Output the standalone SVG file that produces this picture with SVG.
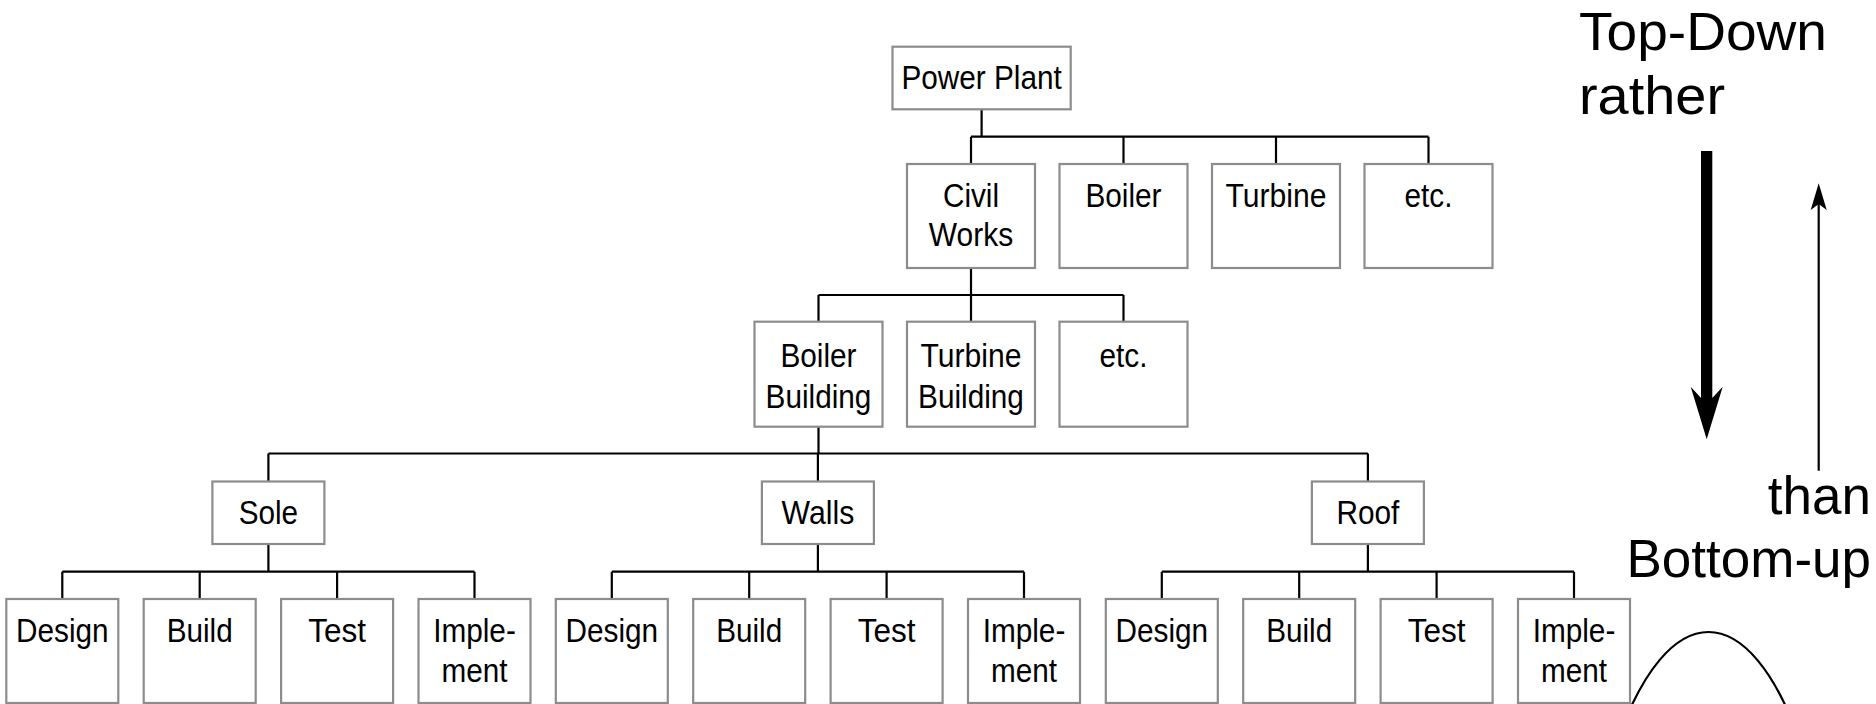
<svg xmlns="http://www.w3.org/2000/svg" width="1876" height="704" viewBox="0 0 1876 704">
<style>
.box{fill:#fff;stroke:#8c8c8c;stroke-width:2.2}
.lbl{font-family:"Liberation Sans",Arial,sans-serif;font-size:33px;text-anchor:middle;fill:#000}
.conn{fill:none;stroke:#000;stroke-width:2.2}
.big{font-family:"Liberation Sans",Arial,sans-serif;font-size:53px;fill:#000}
</style>
<rect width="1876" height="704" fill="#fff"/>
<g id="connectors" class="conn">
<path d="M981.6,109.3V136.7M971,136.7H1428.5M971,136.7V164M1123.5,136.7V164M1276,136.7V164M1428.5,136.7V164"/>
<path d="M971,268V295M818.5,295H1123.5M818.5,295V321.7M971,295V321.7M1123.5,295V321.7"/>
<path d="M818.5,426.7V453.5M268.4,453.5H1367.9M268.4,453.5V481.5M817.9,453.5V481.5M1367.9,453.5V481.5"/>
<path d="M268.4,544V571.7M62.3,571.7H474.5M62.3,571.7V599M199.7,571.7V599M337.1,571.7V599M474.5,571.7V599"/>
<path d="M817.9,544V571.7M611.8,571.7H1024M611.8,571.7V599M749.2,571.7V599M886.6,571.7V599M1024,571.7V599"/>
<path d="M1367.9,544V571.7M1161.8,571.7H1574M1161.8,571.7V599M1299.2,571.7V599M1436.6,571.7V599M1574,571.7V599"/>
</g>
<g id="power-plant"><rect class="box" x="892.5" y="46.7" width="178.2" height="62.6"/><text class="lbl" x="981.6" y="89" textLength="160.4" lengthAdjust="spacingAndGlyphs">Power Plant</text></g>
<g id="civil-works"><rect class="box" x="907" y="164" width="128" height="104"/><text class="lbl" x="971" y="207" textLength="56.2" lengthAdjust="spacingAndGlyphs">Civil</text><text class="lbl" x="971" y="245.5" textLength="84.3" lengthAdjust="spacingAndGlyphs">Works</text></g>
<g id="boiler"><rect class="box" x="1059.5" y="164" width="128" height="104"/><text class="lbl" x="1123.5" y="207" textLength="76.1" lengthAdjust="spacingAndGlyphs">Boiler</text></g>
<g id="turbine"><rect class="box" x="1212" y="164" width="128" height="104"/><text class="lbl" x="1276" y="207" textLength="100.9" lengthAdjust="spacingAndGlyphs">Turbine</text></g>
<g id="etc-1"><rect class="box" x="1364.5" y="164" width="128" height="104"/><text class="lbl" x="1428.5" y="207" textLength="48" lengthAdjust="spacingAndGlyphs">etc.</text></g>
<g id="boiler-building"><rect class="box" x="754.5" y="321.7" width="128" height="105"/><text class="lbl" x="818.5" y="367.3" textLength="76.1" lengthAdjust="spacingAndGlyphs">Boiler</text><text class="lbl" x="818.5" y="407.5" textLength="105.8" lengthAdjust="spacingAndGlyphs">Building</text></g>
<g id="turbine-building"><rect class="box" x="907" y="321.7" width="128" height="105"/><text class="lbl" x="971" y="367.3" textLength="100.9" lengthAdjust="spacingAndGlyphs">Turbine</text><text class="lbl" x="971" y="407.5" textLength="105.8" lengthAdjust="spacingAndGlyphs">Building</text></g>
<g id="etc-2"><rect class="box" x="1059.5" y="321.7" width="128" height="105"/><text class="lbl" x="1123.5" y="367.3" textLength="48" lengthAdjust="spacingAndGlyphs">etc.</text></g>
<g id="sole"><rect class="box" x="212.4" y="481.5" width="112" height="62.5"/><text class="lbl" x="268.4" y="523.5" textLength="59.5" lengthAdjust="spacingAndGlyphs">Sole</text></g>
<g id="walls"><rect class="box" x="761.9" y="481.5" width="112" height="62.5"/><text class="lbl" x="817.9" y="523.5" textLength="72.7" lengthAdjust="spacingAndGlyphs">Walls</text></g>
<g id="roof"><rect class="box" x="1311.9" y="481.5" width="112" height="62.5"/><text class="lbl" x="1367.9" y="523.5" textLength="62.9" lengthAdjust="spacingAndGlyphs">Roof</text></g>
<g id="sole-design"><rect class="box" x="6.3" y="599" width="112" height="104"/><text class="lbl" x="62.3" y="641.7" textLength="92.6" lengthAdjust="spacingAndGlyphs">Design</text></g>
<g id="sole-build"><rect class="box" x="143.7" y="599" width="112" height="104"/><text class="lbl" x="199.7" y="641.7" textLength="66.1" lengthAdjust="spacingAndGlyphs">Build</text></g>
<g id="sole-test"><rect class="box" x="281.1" y="599" width="112" height="104"/><text class="lbl" x="337.1" y="641.7" textLength="57.8" lengthAdjust="spacingAndGlyphs">Test</text></g>
<g id="sole-implement"><rect class="box" x="418.5" y="599" width="112" height="104"/><text class="lbl" x="474.5" y="641.7" textLength="82.7" lengthAdjust="spacingAndGlyphs">Imple-</text><text class="lbl" x="474.5" y="681.5" textLength="66.1" lengthAdjust="spacingAndGlyphs">ment</text></g>
<g id="walls-design"><rect class="box" x="555.8" y="599" width="112" height="104"/><text class="lbl" x="611.8" y="641.7" textLength="92.6" lengthAdjust="spacingAndGlyphs">Design</text></g>
<g id="walls-build"><rect class="box" x="693.2" y="599" width="112" height="104"/><text class="lbl" x="749.2" y="641.7" textLength="66.1" lengthAdjust="spacingAndGlyphs">Build</text></g>
<g id="walls-test"><rect class="box" x="830.6" y="599" width="112" height="104"/><text class="lbl" x="886.6" y="641.7" textLength="57.8" lengthAdjust="spacingAndGlyphs">Test</text></g>
<g id="walls-implement"><rect class="box" x="968" y="599" width="112" height="104"/><text class="lbl" x="1024" y="641.7" textLength="82.7" lengthAdjust="spacingAndGlyphs">Imple-</text><text class="lbl" x="1024" y="681.5" textLength="66.1" lengthAdjust="spacingAndGlyphs">ment</text></g>
<g id="roof-design"><rect class="box" x="1105.8" y="599" width="112" height="104"/><text class="lbl" x="1161.8" y="641.7" textLength="92.6" lengthAdjust="spacingAndGlyphs">Design</text></g>
<g id="roof-build"><rect class="box" x="1243.2" y="599" width="112" height="104"/><text class="lbl" x="1299.2" y="641.7" textLength="66.1" lengthAdjust="spacingAndGlyphs">Build</text></g>
<g id="roof-test"><rect class="box" x="1380.6" y="599" width="112" height="104"/><text class="lbl" x="1436.6" y="641.7" textLength="57.8" lengthAdjust="spacingAndGlyphs">Test</text></g>
<g id="roof-implement"><rect class="box" x="1518" y="599" width="112" height="104"/><text class="lbl" x="1574" y="641.7" textLength="82.7" lengthAdjust="spacingAndGlyphs">Imple-</text><text class="lbl" x="1574" y="681.5" textLength="66.1" lengthAdjust="spacingAndGlyphs">ment</text></g>
<g id="direction">
<text class="big" x="1579" y="50" textLength="248" lengthAdjust="spacingAndGlyphs">Top-Down</text>
<text class="big" x="1579" y="113.5" textLength="146" lengthAdjust="spacingAndGlyphs">rather</text>
<path d="M1701,151H1712.3V398L1722.7,386.7L1706.7,439.3L1690.7,386.7L1701,398Z" fill="#000"/>
<line x1="1818.7" y1="204" x2="1818.7" y2="470.7" stroke="#000" stroke-width="2.2"/>
<path d="M1818.7,183.3L1826.7,210L1818.7,204L1810.7,210Z" fill="#000"/>
<text class="big" x="1871" y="514" text-anchor="end">than</text>
<text class="big" x="1871" y="576.5" text-anchor="end">Bottom-up</text>
<ellipse cx="1708.5" cy="1032" rx="133" ry="400" fill="none" stroke="#000" stroke-width="2.2"/>
</g>
</svg>
